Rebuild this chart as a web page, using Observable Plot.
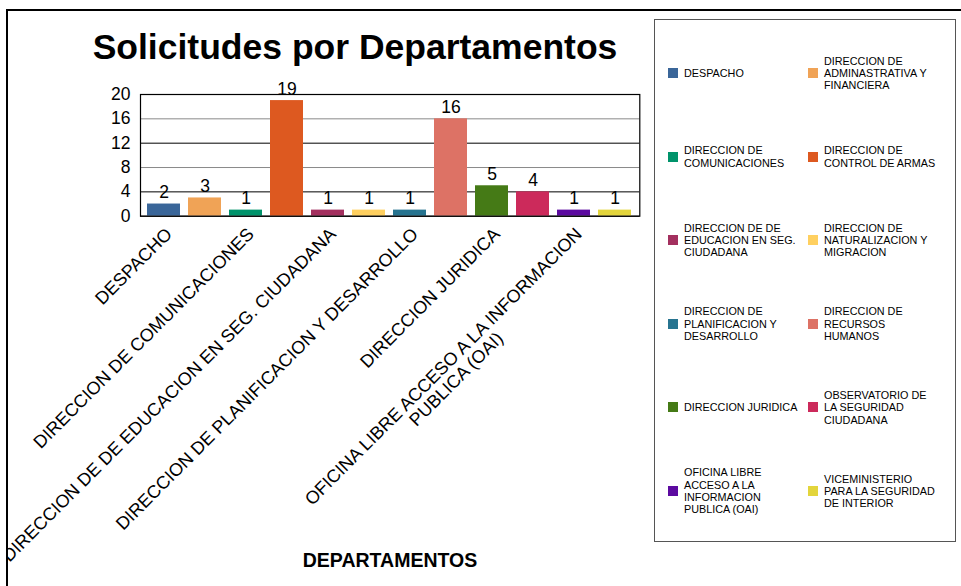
<!DOCTYPE html>
<html>
<head>
<meta charset="utf-8">
<script src="https://cdn.jsdelivr.net/npm/d3@7"></script>
<script src="https://cdn.jsdelivr.net/npm/@observablehq/plot@0.6"></script>
<style>
  body { margin: 0; background: #fff; }
  #wrap { position: relative; width: 961px; height: 586px; overflow: hidden;
          font-family: "Liberation Sans", Arial, sans-serif; color: #000; background: #fff; }
  #inner { position: absolute; left: 0; top: 0; width: 961px; height: 586px; clip-path: inset(0 0 0 8px); }
  #border { position: absolute; left: 6px; top: 9px; width: 1000px; height: 1000px;
            border-top: 2px solid #000; border-left: 2px solid #000; }
  #title { position: absolute; left: 0; width: 710px; top: 29px; text-align: center;
           font-weight: bold; font-size: 35.5px; line-height: 36px; white-space: nowrap; }
  #xtitle { position: absolute; left: 190px; width: 400px; top: 550px; text-align: center;
            font-weight: bold; font-size: 19.5px; line-height: 20px; }
  #chart { position: absolute; left: 0; top: 0; }
  #legend { position: absolute; left: 654px; top: 19px; width: 302px; height: 523px;
            border: 1px solid #555; box-sizing: border-box; background: #fff; }
  .item { position: absolute; display: flex; align-items: center; height: 60px; }
  .sw { width: 10px; height: 10px; flex: none; margin-right: 6px; }
  .lt { font-size: 10.8px; line-height: 12.3px; white-space: pre; }
</style>
</head>
<body>
<div id="wrap">
  <div id="inner">
    <div id="chart"></div>
    <div id="title"></div>
    <div id="xtitle"></div>
  </div>
  <div id="border"></div>
  <div id="legend"></div>
</div>
<script>
// ---- data ----
const departments = [
  "DESPACHO",
  "DIRECCION DE ADMINASTRATIVA Y FINANCIERA",
  "DIRECCION DE COMUNICACIONES",
  "DIRECCION DE CONTROL DE ARMAS",
  "DIRECCION DE DE EDUCACION EN SEG. CIUDADANA",
  "DIRECCION DE NATURALIZACION Y MIGRACION",
  "DIRECCION DE PLANIFICACION Y DESARROLLO",
  "DIRECCION DE RECURSOS HUMANOS",
  "DIRECCION JURIDICA",
  "OBSERVATORIO DE LA SEGURIDAD CIUDADANA",
  "OFICINA LIBRE ACCESO A LA INFORMACION PUBLICA (OAI)",
  "VICEMINISTERIO PARA LA SEGURIDAD DE INTERIOR"
];
const requests = [2, 3, 1, 19, 1, 1, 1, 16, 5, 4, 1, 1];
const xTickValues = [
  "DESPACHO",
  "DIRECCION DE COMUNICACIONES",
  "DIRECCION DE DE EDUCACION EN SEG. CIUDADANA",
  "DIRECCION DE PLANIFICACION Y DESARROLLO",
  "DIRECCION JURIDICA",
  "OFICINA LIBRE ACCESO A LA INFORMACION PUBLICA (OAI)"
];
const xTickText = [
  "DESPACHO",
  "DIRECCION DE COMUNICACIONES",
  "DIRECCION DE DE EDUCACION EN SEG. CIUDADANA",
  "DIRECCION DE PLANIFICACION Y DESARROLLO",
  "DIRECCION JURIDICA",
  "OFICINA LIBRE ACCESO A LA INFORMACION\nPUBLICA (OAI)"
];
const legendText = [
  "DESPACHO",
  "DIRECCION DE\nADMINASTRATIVA Y\nFINANCIERA",
  "DIRECCION DE\nCOMUNICACIONES",
  "DIRECCION DE\nCONTROL DE ARMAS",
  "DIRECCION DE DE\nEDUCACION EN SEG.\nCIUDADANA",
  "DIRECCION DE\nNATURALIZACION Y\nMIGRACION",
  "DIRECCION DE\nPLANIFICACION Y\nDESARROLLO",
  "DIRECCION DE\nRECURSOS\nHUMANOS",
  "DIRECCION JURIDICA",
  "OBSERVATORIO DE\nLA SEGURIDAD\nCIUDADANA",
  "OFICINA LIBRE\nACCESO A LA\nINFORMACION\nPUBLICA (OAI)",
  "VICEMINISTERIO\nPARA LA SEGURIDAD\nDE INTERIOR"
];
const yTicks = [0, 4, 8, 12, 16, 20];
const titleText = "Solicitudes por Departamentos";
const xTitleText = "DEPARTAMENTOS";

// ---- styling ----
const palette = ["#3a6699", "#f0a356", "#00936b", "#dd5920", "#a3305f", "#ffd060",
                 "#277490", "#dd7265", "#457a16", "#cc2a5b", "#5c0aa0", "#e3d53c"];

const rows = departments.map((d, i) => ({dept: d, value: requests[i]}));
const tickLabel = new Map(xTickValues.map((d, i) => [d, xTickText[i]]));

const chart = Plot.plot({
  width: 650,
  height: 586,
  marginLeft: 140,
  marginRight: 10.7,
  marginTop: 94,
  marginBottom: 370.3,
  style: {fontFamily: '"Liberation Sans", Arial, sans-serif', fontSize: "17.5px", color: "#000", background: "transparent", overflow: "visible"},
  x: {domain: departments, paddingInner: 0.183, paddingOuter: 0.09, axis: null},
  y: {domain: [0, 20], axis: null},
  color: {domain: departments, range: palette},
  marks: [
    Plot.ruleY(yTicks, {stroke: d => (d % 8 === 0 && d > 0) ? "#8a8a8a" : "#000", strokeWidth: 1}),
    Plot.barY(rows, {x: "dept", y: "value", fill: "dept"}),
    Plot.frame({stroke: "#000", strokeWidth: 1.2}),
    Plot.text(rows, {x: "dept", y: "value", text: d => String(d.value), lineAnchor: "bottom", dy: -6, fill: "#000", fontSize: 17.5}),
    Plot.axisY({ticks: yTicks, tickSize: 0, tickPadding: 10, label: null, fontSize: 17.5}),
    Plot.axisX({ticks: xTickValues, tickFormat: d => tickLabel.get(d), tickSize: 0, tickPadding: 10,
                tickRotate: -45, textAnchor: "end", lineAnchor: "top", label: null, fontSize: 18})
  ]
});
document.getElementById("chart").appendChild(chart);

// centre multi-line tick labels on one another (as the original does)
chart.querySelectorAll("text").forEach(t => {
  const spans = t.querySelectorAll("tspan");
  if (spans.length > 1) {
    let maxW = 0;
    spans.forEach(s => { maxW = Math.max(maxW, s.getComputedTextLength()); });
    t.setAttribute("text-anchor", "middle");
    spans.forEach(s => s.setAttribute("x", -maxW / 2));
  }
});

document.getElementById("title").textContent = titleText;
document.getElementById("xtitle").textContent = xTitleText;

// legend
const legend = document.getElementById("legend");
departments.forEach((d, i) => {
  const col = i % 2, row = Math.floor(i / 2);
  const item = document.createElement("div");
  item.className = "item";
  item.style.left = (col === 0 ? 13 : 153) + "px";
  item.style.top = (72 + 83.6 * row - 19 - 30) + "px";
  const sw = document.createElement("div");
  sw.className = "sw";
  sw.style.background = palette[i];
  const lt = document.createElement("div");
  lt.className = "lt";
  lt.textContent = legendText[i];
  item.appendChild(sw);
  item.appendChild(lt);
  legend.appendChild(item);
});
</script>
</body>
</html>
